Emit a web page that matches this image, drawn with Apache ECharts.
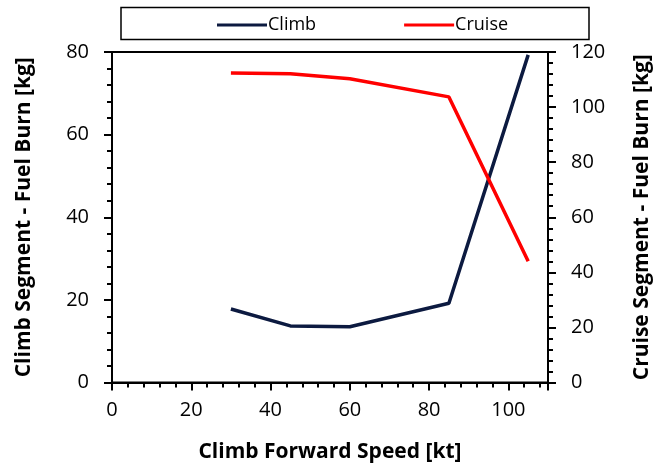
<!DOCTYPE html>
<html>
<head>
<meta charset="utf-8">
<script src="https://cdn.jsdelivr.net/npm/echarts@6/dist/echarts.min.js"></script>
<style>
  html, body { margin: 0; padding: 0; background: #fff; }
  #chart { width: 661px; height: 472px; }
</style>
</head>
<body>
<div id="chart"></div>
<script>
// Climb forward speed [kt]
const speeds = [30, 45, 60, 85, 105];
// Fuel burn in the climb segment [kg] (left axis)
const climbFuel = [17.8, 13.7, 13.5, 19.2, 79.3];
// Fuel burn in the cruise segment [kg] (right axis)
const cruiseFuel = [112.4, 112.1, 110.3, 103.7, 44.0];
const seriesNames = ['Climb', 'Cruise'];

const FONT = '"Open Sans"';
const climbColor = '#0c1a40';
const cruiseColor = '#ff0000';

const chart = echarts.init(document.getElementById('chart'), null, { renderer: 'canvas' });

const axisCommon = {
  axisLine: { show: true, lineStyle: { color: '#000', width: 2 } },
  axisTick: { show: true, inside: false, length: 8, lineStyle: { color: '#000', width: 2 } },
  minorTick: { show: true, splitNumber: 5, length: 5, lineStyle: { color: '#000', width: 2 } },
  splitLine: { show: false },
  axisLabel: { color: '#000', fontFamily: FONT, fontSize: 20 },
  nameTextStyle: { color: '#000', fontFamily: FONT, fontSize: 21, fontWeight: 'bold' },
  nameLocation: 'middle'
};

chart.setOption({
  animation: false,
  backgroundColor: '#fff',
  grid: {
    left: 112, right: 109, top: 52, bottom: 89.5,
    show: true, borderColor: '#000', borderWidth: 2, backgroundColor: 'transparent'
  },
  graphic: [{
    type: 'rect',
    shape: { x: 121, y: 7.5, width: 468, height: 32 },
    style: { fill: 'none', stroke: '#000', lineWidth: 1.5 },
    silent: true
  }],
  legend: {
    data: seriesNames,
    top: 11,
    left: 212,
    itemWidth: 50,
    itemHeight: 3,
    itemGap: 88,
    icon: 'rect',
    textStyle: { color: '#000', fontFamily: FONT, fontSize: 18, padding: [0, 0, 0, -4] }
  },
  xAxis: Object.assign({}, axisCommon, {
    type: 'value',
    min: 0, max: 110, interval: 20,
    name: 'Climb Forward Speed [kt]',
    nameGap: 59,
    axisLabel: Object.assign({}, axisCommon.axisLabel, { margin: 18, showMaxLabel: false })
  }),
  yAxis: [
    Object.assign({}, axisCommon, {
      type: 'value',
      position: 'left',
      min: 0, max: 80, interval: 20,
      name: 'Climb Segment - Fuel Burn [kg]',
      nameGap: 77,
      axisLabel: Object.assign({}, axisCommon.axisLabel, { margin: 23 })
    }),
    Object.assign({}, axisCommon, {
      type: 'value',
      position: 'right',
      min: 0, max: 120, interval: 20,
      name: 'Cruise Segment - Fuel Burn [kg]',
      nameGap: 84,
      nameRotate: 90,
      axisLabel: Object.assign({}, axisCommon.axisLabel, { margin: 23 })
    })
  ],
  series: [
    {
      name: seriesNames[0],
      type: 'line',
      yAxisIndex: 0,
      data: speeds.map((s, i) => [s, climbFuel[i]]),
      symbol: 'none',
      lineStyle: { color: climbColor, width: 3.5 },
      itemStyle: { color: climbColor }
    },
    {
      name: seriesNames[1],
      type: 'line',
      yAxisIndex: 1,
      data: speeds.map((s, i) => [s, cruiseFuel[i]]),
      symbol: 'none',
      lineStyle: { color: cruiseColor, width: 3.5 },
      itemStyle: { color: cruiseColor }
    }
  ]
});
</script>
</body>
</html>
